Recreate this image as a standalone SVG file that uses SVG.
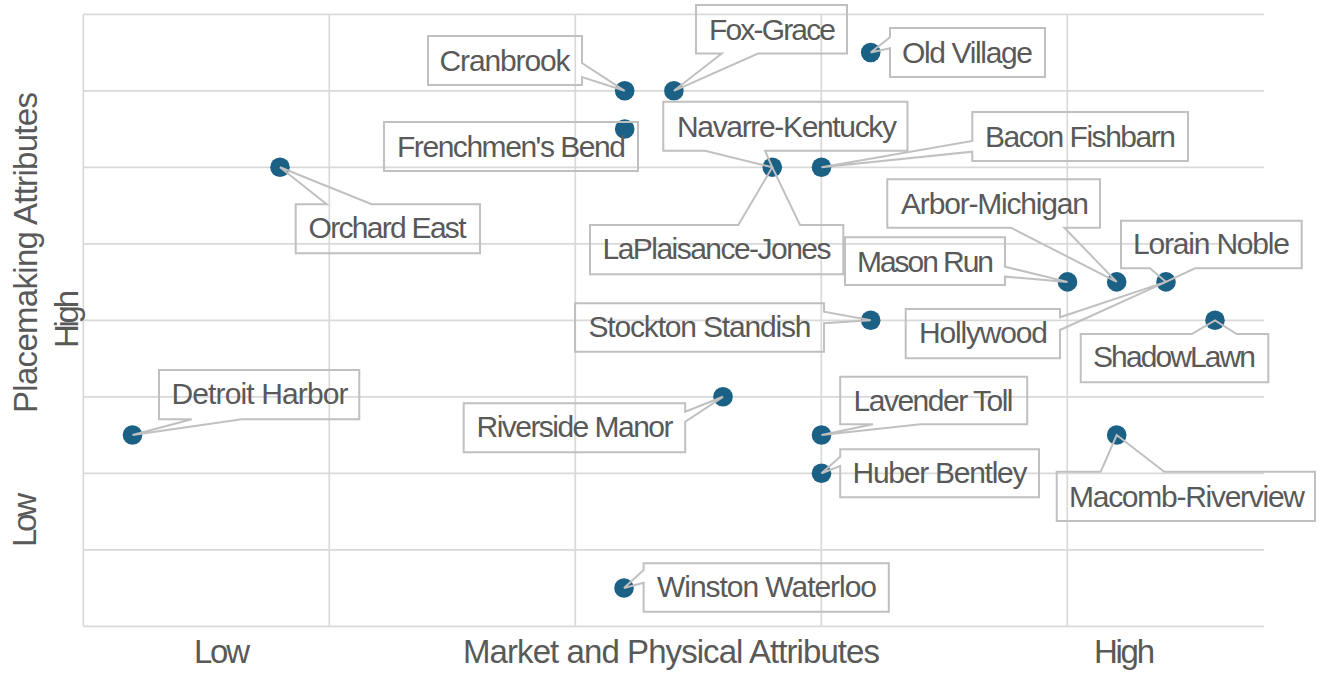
<svg xmlns="http://www.w3.org/2000/svg" width="1323" height="675" viewBox="0 0 1323 675">
<style>
.grid{stroke:#d9d9d9;stroke-width:1.7;fill:none}
.dot{fill:#1b6185}
.box{fill:none;stroke:#c0c0c0;stroke-width:2;stroke-linejoin:miter}
.lbl{font-family:"Liberation Sans",Arial,sans-serif;font-size:30px;fill:#595959;text-anchor:middle}
.ax{font-family:"Liberation Sans",Arial,sans-serif;font-size:33px;fill:#595959;text-anchor:middle}
</style>
<rect width="1323" height="675" fill="#ffffff"/>
<g id="grid">
<path class="grid" d="M83.3,14.3H1264 M83.3,90.8H1264 M83.3,167.3H1264 M83.3,243.8H1264 M83.3,320.3H1264 M83.3,396.8H1264 M83.3,473.3H1264 M83.3,549.8H1264 M83.3,626.3H1264"/>
<path class="grid" d="M83.3,14.3V626.3 M329.3,14.3V626.3 M575.3,14.3V626.3 M821.3,14.3V626.3 M1067.3,14.3V626.3"/>
</g>
<g id="axes">
<text class="ax" x="222" y="663" textLength="56" lengthAdjust="spacing">Low</text>
<text class="ax" x="671.5" y="663" textLength="417" lengthAdjust="spacing">Market and Physical Attributes</text>
<text class="ax" x="1124.5" y="663" textLength="61" lengthAdjust="spacing">High</text>
<text class="ax" transform="translate(37,252.5) rotate(-90)" textLength="321" lengthAdjust="spacing">Placemaking Attributes</text>
<text class="ax" transform="translate(78,319) rotate(-90)" textLength="58" lengthAdjust="spacing">High</text>
<text class="ax" transform="translate(36,520) rotate(-90)" textLength="54" lengthAdjust="spacing">Low</text>
</g>
<g id="points">
<circle class="dot" cx="624.7" cy="90.8" r="9.8"/>
<circle class="dot" cx="673.9" cy="90.8" r="9.8"/>
<circle class="dot" cx="870.7" cy="52.5" r="9.8"/>
<circle class="dot" cx="624.7" cy="129" r="9.8"/>
<circle class="dot" cx="280" cy="167.3" r="9.8"/>
<circle class="dot" cx="772.3" cy="167.3" r="9.8"/>
<circle class="dot" cx="821.5" cy="167.3" r="9.8"/>
<circle class="dot" cx="1067.5" cy="281.9" r="9.8"/>
<circle class="dot" cx="1116.7" cy="281.9" r="9.8"/>
<circle class="dot" cx="1166" cy="281.9" r="9.8"/>
<circle class="dot" cx="1215" cy="320.3" r="9.8"/>
<circle class="dot" cx="870.7" cy="320.3" r="9.8"/>
<circle class="dot" cx="132.5" cy="435" r="9.8"/>
<circle class="dot" cx="723" cy="396.8" r="9.8"/>
<circle class="dot" cx="821.5" cy="435" r="9.8"/>
<circle class="dot" cx="821.5" cy="473.3" r="9.8"/>
<circle class="dot" cx="1116.7" cy="435" r="9.8"/>
<circle class="dot" cx="624" cy="588" r="9.8"/>
</g>
<g id="connectors">
<path class="box" d="M428,36H582V63L624.7,90.8L582,77V85H428Z"/>
<path class="box" d="M696,5H847V53.5H758L673.9,90.8L721.7,53.5H696Z"/>
<path class="box" d="M890,28H1045V77H890V48.3L870.7,52.5L890,37.3Z"/>
<path class="box" d="M384,122H638V171H384Z"/>
<path class="box" d="M663.3,101.7H907.5V150.7H765L772.3,167.3L705,150.7H663.3Z"/>
<path class="box" d="M590,225H738.3L772.3,167.3L800,225H843.3V274.3H590Z"/>
<path class="box" d="M972.3,112H1188V161H972.3V151.7L821.5,167.3L972.3,141Z"/>
<path class="box" d="M295.7,204.3H326.7L280,167.3L371.7,204.3H480V253.3H295.7Z"/>
<path class="box" d="M887.3,179.3H1100V227.7H1064.3L1116.7,281.9L1011,227.7H887.3Z"/>
<path class="box" d="M845,237.3H1005V266.7L1067.5,281.9L1005,276.7V285H845Z"/>
<path class="box" d="M1121,220.7H1301.7V268.3H1195L1166,281.9L1150,268.3H1121Z"/>
<path class="box" d="M905.7,309H1060V317.3L1166,281.9L1060,330V358.3H905.7Z"/>
<path class="box" d="M1080.7,334H1191.7L1215,320.3L1236.7,334H1268.3V382.3H1080.7Z"/>
<path class="box" d="M575,303.3H824V311.7L870.7,320.3L824,323.3V351.7H575Z"/>
<path class="box" d="M159,370H359.3V419.3H241.7L132.5,435L191.7,419.3H159Z"/>
<path class="box" d="M463.7,403.3H685.2V411.7L723,396.8L685.2,421.7V452.3H463.7Z"/>
<path class="box" d="M840.2,376.7H1027.2V424.3H920.4L821.5,435L873,424.3H840.2Z"/>
<path class="box" d="M840.2,449.3H1039V497.3H840.2V466L821.5,473.3L840.2,456.7Z"/>
<path class="box" d="M643.6,563.3H888.8V611.7H643.6V582.7L624,588L643.6,570Z"/>
<path class="box" d="M1056.7,471.7H1100.7L1116.7,435L1164.3,471.7H1315V521H1056.7Z"/>
</g>
<g id="node-cranbrook"><text class="lbl" x="505" y="71" textLength="131" lengthAdjust="spacing">Cranbrook</text></g>
<g id="node-fox-grace"><text class="lbl" x="772.5" y="40" textLength="127" lengthAdjust="spacing">Fox-Grace</text></g>
<g id="node-old-village"><text class="lbl" x="967.5" y="63.3" textLength="131" lengthAdjust="spacing">Old Village</text></g>
<g id="node-frenchmens-bend"><text class="lbl" x="511.5" y="156.7" textLength="229" lengthAdjust="spacing">Frenchmen's Bend</text></g>
<g id="node-navarre-kentucky"><text class="lbl" x="787" y="137.3" textLength="220" lengthAdjust="spacing">Navarre-Kentucky</text></g>
<g id="node-laplaisance-jones"><text class="lbl" x="717" y="259.3" textLength="229" lengthAdjust="spacing">LaPlaisance-Jones</text></g>
<g id="node-bacon-fishbarn"><text class="lbl" x="1080.5" y="146.7" textLength="191" lengthAdjust="spacing">Bacon Fishbarn</text></g>
<g id="node-orchard-east"><text class="lbl" x="387.5" y="238.3" textLength="158" lengthAdjust="spacing">Orchard East</text></g>
<g id="node-arbor-michigan"><text class="lbl" x="995" y="214.3" textLength="188" lengthAdjust="spacing">Arbor-Michigan</text></g>
<g id="node-mason-run"><text class="lbl" x="925.5" y="271.7" textLength="137" lengthAdjust="spacing">Mason Run</text></g>
<g id="node-lorain-noble"><text class="lbl" x="1211.5" y="254" textLength="157" lengthAdjust="spacing">Lorain Noble</text></g>
<g id="node-hollywood"><text class="lbl" x="983.5" y="343.3" textLength="129" lengthAdjust="spacing">Hollywood</text></g>
<g id="node-shadowlawn"><text class="lbl" x="1174.5" y="366.7" textLength="163" lengthAdjust="spacing">ShadowLawn</text></g>
<g id="node-stockton-standish"><text class="lbl" x="700" y="337.3" textLength="223" lengthAdjust="spacing">Stockton Standish</text></g>
<g id="node-detroit-harbor"><text class="lbl" x="260" y="404" textLength="177" lengthAdjust="spacing">Detroit Harbor</text></g>
<g id="node-riverside-manor"><text class="lbl" x="575" y="437.3" textLength="197" lengthAdjust="spacing">Riverside Manor</text></g>
<g id="node-lavender-toll"><text class="lbl" x="933.5" y="410.7" textLength="160" lengthAdjust="spacing">Lavender Toll</text></g>
<g id="node-huber-bentley"><text class="lbl" x="940" y="483.3" textLength="175" lengthAdjust="spacing">Huber Bentley</text></g>
<g id="node-winston-waterloo"><text class="lbl" x="767" y="596.7" textLength="220" lengthAdjust="spacing">Winston Waterloo</text></g>
<g id="node-macomb-riverview"><text class="lbl" x="1187" y="507.3" textLength="236" lengthAdjust="spacing">Macomb-Riverview</text></g>
</svg>
